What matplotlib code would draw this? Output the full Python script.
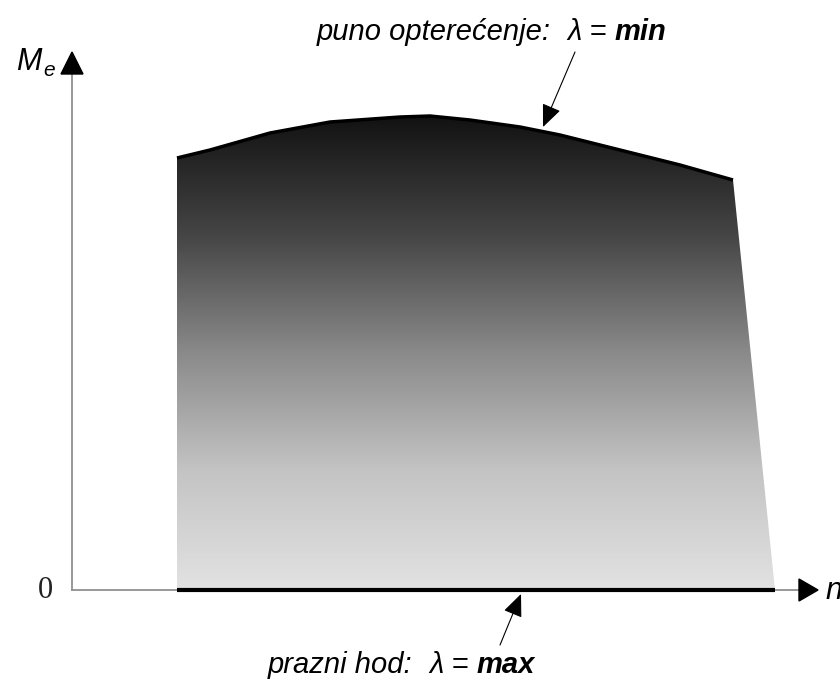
import numpy as np
import matplotlib
matplotlib.use("Agg")
import matplotlib.pyplot as plt
from matplotlib.patches import Polygon
from matplotlib.colors import LinearSegmentedColormap
from matplotlib.transforms import offset_copy

# Data (arbitrary units: speed n, torque Me)
n_full = [105, 138, 198, 258, 328, 358, 398, 448, 488, 548, 608, 661]
me_full = [432, 440, 457, 468, 473, 474, 470, 463, 455, 440, 425, 410]
n_idle_max = 703
n_start = 105

fig = plt.figure(figsize=(8.4, 6.86), dpi=100)
ax = fig.add_axes([0, 0, 1, 1])
ax.set_xlim(-72, 768)
ax.set_ylim(-96, 590)
ax.axis("off")

# region polygon
px = [n_start] + n_full + [n_idle_max, n_start]
py = [0] + me_full + [0, 0]
poly = Polygon(np.column_stack([px, py]), closed=True, facecolor="none", edgecolor="none")
ax.add_patch(poly)

cmap = LinearSegmentedColormap.from_list(
    "g", [(0.0, "#e2e2e2"), (0.25, "#c4c4c4"), (0.5, "#8a8a8a"), (0.75, "#454545"), (1.0, "#121212")])
grad = np.linspace(0, 1, 256).reshape(-1, 1)
im = ax.imshow(grad, cmap=cmap, origin="lower", aspect="auto",
               extent=[n_start - 2, n_idle_max + 2, 0, max(me_full)], zorder=1)
im.set_clip_path(poly)

# full load curve (outline)
ax.plot(n_full, me_full, color="black", lw=2.5, zorder=3, solid_capstyle="butt")
# idle line
ax.plot([n_start, n_idle_max], [0, 0], color="black", lw=3, zorder=3, solid_capstyle="butt")

# axes
ax.plot([0, 728], [0, 0], color="#909090", lw=1.3, zorder=2)
ax.plot([0, 0], [0, 518], color="#909090", lw=1.3, zorder=2)
ax.add_patch(Polygon([[727, -11], [727, 11], [746, 0]], closed=True, color="black", zorder=4))
ax.add_patch(Polygon([[-11, 516], [11, 516], [0, 538]], closed=True, color="black", zorder=4))

FAM = ["Liberation Sans", "DejaVu Sans"]
ax.text(-19, 0, "0", ha="right", va="center", fontsize=22, family="Liberation Serif", color="#222222")
ax.text(-56, 520, "M", ha="left", va="baseline", fontsize=22, style="italic", family=FAM)
ax.text(-29, 514, "e", ha="left", va="baseline", fontsize=15, style="italic", family=FAM)
ax.text(754, -1, "n", ha="left", va="center", fontsize=22, style="italic", family=FAM)

fig.canvas.draw()
renderer = fig.canvas.get_renderer()


def rich(x, y, parts, size):
    """draw consecutive text parts starting at data (x, y) baseline"""
    t = ax.transData
    for s, w in parts:
        txt = ax.text(x, y, s, transform=t, ha="left", va="baseline", fontsize=size,
                      style="italic", weight=w, family=FAM)
        ex = txt.get_window_extent(renderer=renderer)
        t = offset_copy(txt.get_transform(), fig=fig, x=ex.width, units="dots")


rich(245, 550, [("puno opterećenje:  ", "normal"), ("λ = ", "normal"), ("min", "bold")], 21)
rich(196, -83, [("prazni hod:  ", "normal"), ("λ = ", "normal"), ("max", "bold")], 21)

ax.annotate("", xy=(471, 463), xytext=(503, 538),
            arrowprops=dict(arrowstyle="-|>,head_length=1.4,head_width=0.6", color="black", lw=0.8,
                            shrinkA=0, shrinkB=0))
ax.annotate("", xy=(449, -4), xytext=(428, -55),
            arrowprops=dict(arrowstyle="-|>,head_length=1.4,head_width=0.6", color="black", lw=0.8,
                            shrinkA=0, shrinkB=0))

fig.savefig("out.png", dpi=100, facecolor="white")
